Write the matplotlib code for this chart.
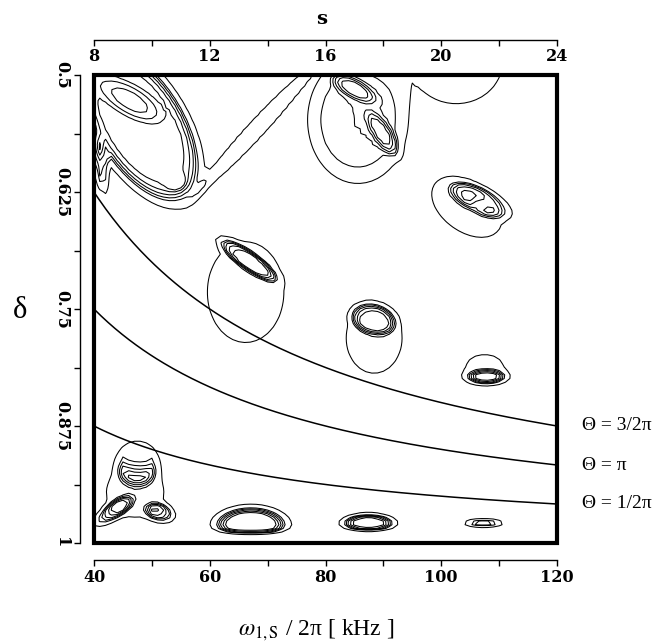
import numpy as np
import matplotlib
matplotlib.use("Agg")
import matplotlib.pyplot as plt
from matplotlib.patches import Rectangle
from matplotlib.ticker import MultipleLocator

plt.rcParams['font.family'] = ['Liberation Serif', 'DejaVu Serif']
plt.rcParams['mathtext.fontset'] = 'stix'

# axes
omega_lim = (40, 120)
delta_lim = (0.5, 1.0)
omega_ticks = [40, 60, 80, 100, 120]
delta_ticks = [0.5, 0.625, 0.75, 0.875, 1.0]
delta_tick_labels = ["0.5", "0.625", "0.75", "0.875", "1"]
s_ticks = [8, 12, 16, 20, 24]

# iso-angle lines, Theta = k*pi/2 with s = omega/5 and s*(1-delta) = k
theta_k = [3, 2, 1]
theta_labels = ["Θ = 3/2π", "Θ = π", "Θ = 1/2π"]

# peaks (centre, height, half widths as fraction of the axes,
# tilt in degrees on screen, flatness of the top)
peak_omega = [48.0, 46.2, 54.1, 41.0, 68.0, 85.6, 84.8, 90.0, 102.6, 104.4,
              107.0, 106.6, 66.2, 66.5, 88.4, 88.2, 107.5, 107.9, 47.5, 47.5,
              43.1, 51.5, 47.1, 67.1, 87.4, 107.3, 80.0]
peak_delta = [0.553, 0.527, 0.614, 0.596, 0.558, 0.548, 0.514, 0.564, 0.486, 0.641,
              0.634, 0.639, 0.732, 0.697, 0.781, 0.760, 0.813, 0.823, 0.9145, 0.9145,
              0.967, 0.968, 0.9455, 0.982, 0.979, 0.979, 1.0]
peak_amp = [3.4, -0.9, 1.3, 2.4, 1.9, 2.3, 1.2, 1.2, 1.5, 1.8,
            1.6, -0.8, 1.6, 2.0, 1.8, 1.8, 1.4, 2.4, 2.7, -1.3,
            2.4, 2.4, 1.6, 4.0, 3.6, 2.5, -8.0]
peak_a = [0.198, 0.075, 0.017, 0.065, 0.190, 0.112, 0.052, 0.060, 0.125, 0.097,
          0.075, 0.019, 0.100, 0.080, 0.069, 0.052, 0.054, 0.048, 0.047, 0.030,
          0.052, 0.034, 0.075, 0.082, 0.060, 0.043, 10.0]
peak_b = [0.101, 0.030, 0.015, 0.017, 0.020, 0.140, 0.019, 0.019, 0.112, 0.060,
          0.028, 0.013, 0.130, 0.020, 0.086, 0.032, 0.038, 0.016, 0.047, 0.030,
          0.019, 0.0215, 0.065, 0.043, 0.0215, 0.0108, 0.0172]
peak_angle = [58, 30, 0, 80, -47, 0, 30, 55, 0, 35,
              25, 0, 0, 35, 0, 15, 0, 0, 0, 0,
              -35, 15, 0, 0, 0, 0, 0]
peak_p = [4, 2, 1, 2, 3, 3, 2, 2, 2, 2,
          3, 1, 2, 3, 2, 3, 2, 1.5, 2, 2,
          2, 2, 2, 2, 2, 2, 1]

levels = [1.0, 2.0, 2.3, 2.6, 2.9, 3.2]

om = np.arange(40, 120.1, 1.0)
de = np.linspace(0.5, 1.0, 129)
W, D = np.meshgrid(om, de)
u = (W - 40) / 80
v = (D - 0.5) / 0.5
Z = np.zeros_like(W)
for w0, d0, amp, a, b, ang, p in zip(peak_omega, peak_delta, peak_amp, peak_a,
                                     peak_b, peak_angle, peak_p):
    du = u - (w0 - 40) / 80
    dv = v - (d0 - 0.5) / 0.5
    t = np.radians(ang)
    x = du * np.cos(t) + dv * np.sin(t)
    y = -du * np.sin(t) + dv * np.cos(t)
    r2 = (x / a) ** 2 + (y / b) ** 2
    Z += amp * np.exp(-r2 ** p)

fig = plt.figure(figsize=(6.54, 6.43), dpi=100)
ax = fig.add_axes([94 / 654, 100 / 643, 463 / 654, 468 / 643])

ax.contour(W, D, Z, levels=levels, colors='black', linewidths=0.75)

wc = np.linspace(40, 120, 200)
for k, lab in zip(theta_k, theta_labels):
    dc = 1 - k / (wc / 5)
    ax.plot(wc, dc, color='black', lw=1.1)
    ax.text(124.3, dc[-1], lab, ha='left', va='center', fontsize=14)

ax.set_xlim(*omega_lim)
ax.set_ylim(delta_lim[1], delta_lim[0])

ax.add_patch(Rectangle((0, 0), 1, 1, transform=ax.transAxes, fill=False,
                       lw=3, ec='black', clip_on=False, zorder=5))
ax.spines['top'].set_visible(False)
ax.spines['right'].set_visible(False)
ax.spines['left'].set_position(('outward', 10))
ax.spines['bottom'].set_position(('outward', 12))
ax.spines['left'].set_linewidth(1.0)
ax.spines['bottom'].set_linewidth(1.0)

tick_font = dict(family='DejaVu Serif', weight='bold', size=11.5)
ax.set_xticks(omega_ticks)
ax.set_xticklabels([str(t) for t in omega_ticks], **tick_font)
ax.xaxis.set_minor_locator(MultipleLocator(10))
ax.set_yticks(delta_ticks)
ax.set_yticklabels(delta_tick_labels, rotation=-90, va='center', ha='right', **tick_font)
ax.yaxis.set_minor_locator(MultipleLocator(0.0625))
ax.tick_params(which='both', direction='out', length=4, width=1.0, pad=3)

# top axis for s
ax_s = fig.add_axes([94 / 654, 1 - 40 / 643, 463 / 654, 0.001])
ax_s.set_xlim(8, 24)
for side in ['top', 'left', 'right']:
    ax_s.spines[side].set_visible(False)
ax_s.spines['bottom'].set_linewidth(1.0)
ax_s.set_yticks([])
ax_s.set_xticks(s_ticks)
ax_s.set_xticklabels([str(t) for t in s_ticks], **tick_font)
ax_s.xaxis.set_minor_locator(MultipleLocator(2))
ax_s.tick_params(which='both', direction='out', length=4, width=1.0, pad=2)
ax_s.patch.set_visible(False)

fig.text(322 / 654, 1 - 19 / 643, "s", ha='center', va='center',
         family='DejaVu Serif', weight='bold', fontsize=14)
fig.text(20 / 654, 1 - 310 / 643, "δ", ha='center', va='center', fontsize=22)
fig.text(316 / 654, 1 - 630 / 643, r"$\omega_{1,\mathrm{S}}$ / 2π [ kHz ]",
         ha='center', va='center', fontsize=17)

fig.savefig("out.png", dpi=100)
